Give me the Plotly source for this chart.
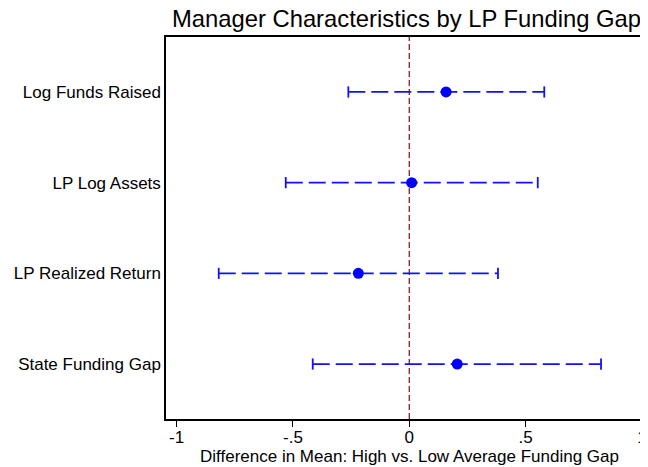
import plotly.graph_objects as go

categories = ["Log Funds Raised", "LP Log Assets", "LP Realized Return", "State Funding Gap"]
estimates = [0.158, 0.010, -0.219, 0.206]
ci_low = [-0.262, -0.531, -0.819, -0.415]
ci_high = [0.580, 0.552, 0.381, 0.824]
x_ticks = [-1, -0.5, 0, 0.5, 1]
x_tick_labels = ["-1", "-.5", "0", ".5", "1"]
x_title = "Difference in Mean: High vs. Low Average Funding Gap"
chart_title = "Manager Characteristics by LP Funding Gap"

n = len(categories)
ypos = [n - i for i in range(n)]

W, H = 640, 459

fig = go.Figure()

# zero reference line
fig.add_vline(x=0, line=dict(color="#9A2A3A", width=1.4, dash="6px,3px"), layer="below")

for i in range(n):
    fig.add_trace(go.Scatter(
        x=[ci_low[i], ci_high[i]], y=[ypos[i], ypos[i]],
        mode="lines+markers",
        line=dict(color="#1010FF", width=1.8, dash="17px,6px"),
        marker=dict(symbol="line-ns", size=8, line=dict(color="#1010FF", width=1.8)),
        showlegend=False, hoverinfo="skip",
    ))

fig.add_trace(go.Scatter(
    x=estimates, y=ypos, mode="markers",
    marker=dict(color="#0000FF", size=11),
    showlegend=False,
))

fig.add_annotation(
    text=x_title, x=0, xref="x", y=0, yref="paper",
    xanchor="center", yanchor="middle", yshift=-37, showarrow=False,
    font=dict(size=17, color="black"),
)

fig.update_layout(
    width=W, height=H,
    margin=dict(l=158, r=0, t=29, b=48, autoexpand=False),
    paper_bgcolor="white", plot_bgcolor="white",
    font=dict(family="Liberation Sans, Arial, sans-serif", color="black", size=17),
    title=dict(text=chart_title,
               x=0.499, xref="paper", xanchor="center",
               y=1 - 2 / H, yref="container", yanchor="top",
               font=dict(size=23.8, color="black")),
    xaxis=dict(
        range=[-1.0456, 1.0258], tickmode="array", tickvals=x_ticks, ticktext=x_tick_labels,
        showgrid=False, zeroline=False, showline=True, linecolor="black", linewidth=1.5,
        mirror=True, ticks="outside", ticklen=6, tickcolor="black", tickwidth=1.2,
        tickfont=dict(size=17), automargin=False, ticklabelstandoff=-4,
    ),
    yaxis=dict(
        range=[0.394, 4.606], tickmode="array", tickvals=ypos, ticktext=categories,
        showgrid=False, zeroline=False, showline=True, linecolor="black", linewidth=1.5,
        mirror=False, ticks="", tickfont=dict(size=17), automargin=False,
    ),
)

fig.write_html("out.html")
